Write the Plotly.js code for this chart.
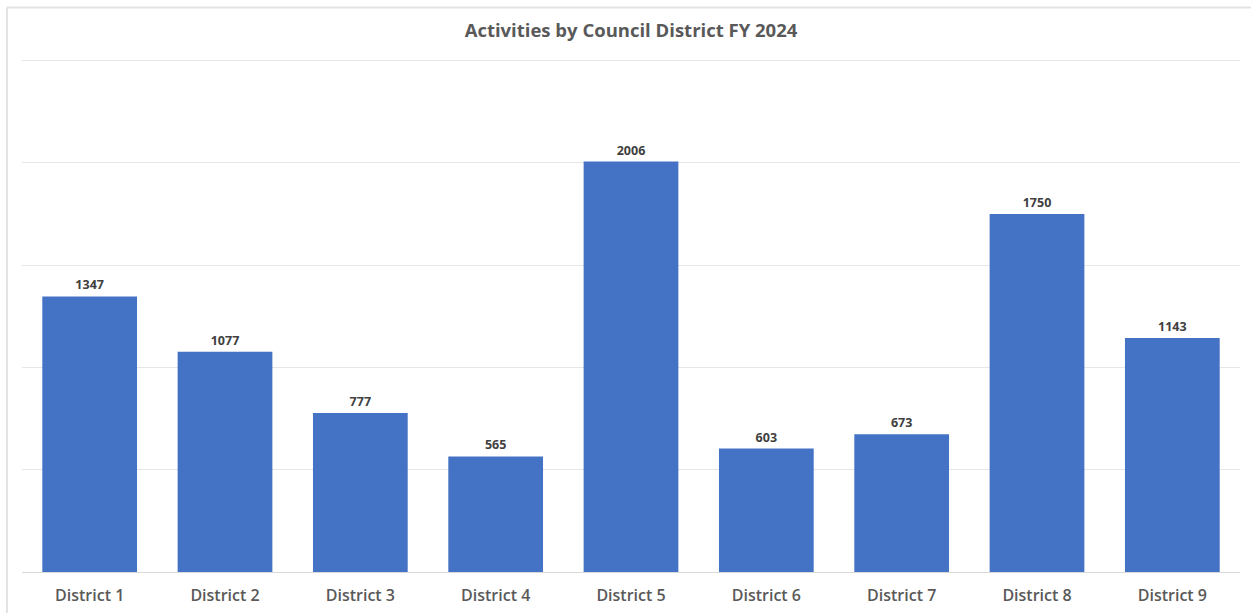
<!DOCTYPE html>
<html>
<head>
<meta charset="utf-8">
<script src="https://cdn.plot.ly/plotly-3.0.1.min.js"></script>
<style>html,body{margin:0;padding:0;background:#fff;}#chart{width:1251px;height:613px;}</style>
</head>
<body>
<div id="chart"></div>
<script>
const districts = ["District 1","District 2","District 3","District 4","District 5","District 6","District 7","District 8","District 9"];
const activities = [1347, 1077, 777, 565, 2006, 603, 673, 1750, 1143];
const titleText = "Activities by Council District FY 2024";

const W = 1251, H = 613;
const yMax = 2600;
const baseY = 572, topGridY = 60;
const ph = (baseY - topGridY) * yMax / 2500;
const m = {l: 22, r: 11, t: baseY - ph, b: H - baseY};
const pw = W - m.l - m.r;
const px = x => (x - m.l) / pw;
const py = y => (baseY - y) / ph;

const trace = {
  type: "bar",
  x: districts,
  y: activities,
  marker: {color: "#4472C4"},
  text: activities.map(String),
  textposition: "outside",
  cliponaxis: false,
  textfont: {family: "Open Sans, sans-serif", size: 12.5, color: "#404040", weight: 700},
  hoverinfo: "x+y"
};

const layout = {
  width: W, height: H,
  margin: m,
  paper_bgcolor: "#fff",
  plot_bgcolor: "#fff",
  showlegend: false,
  bargap: 0.3,
  title: {
    text: titleText,
    x: 0.5, xref: "paper", xanchor: "center",
    y: 1 - 31 / H, yref: "container", yanchor: "middle",
    font: {family: "Open Sans, sans-serif", size: 18.5, color: "#595959", weight: 700}
  },
  xaxis: {
    showgrid: false, zeroline: false, showline: false, ticks: "",
    ticklabelstandoff: 12,
    tickfont: {family: "Open Sans, sans-serif", size: 16, color: "#595959", weight: 600},
    fixedrange: true
  },
  yaxis: {
    range: [0, yMax], dtick: 500, tick0: 0,
    showticklabels: false, ticks: "",
    showgrid: true, gridcolor: "#e6e6e6", gridwidth: 1,
    zeroline: true, zerolinecolor: "#d9d9d9", zerolinewidth: 1,
    showline: false, fixedrange: true
  },
  shapes: [
    {type: "line", xref: "paper", yref: "paper", x0: px(7), x1: px(W), y0: py(7), y1: py(7), line: {color: "#e3e3e3", width: 2}},
    {type: "line", xref: "paper", yref: "paper", x0: px(7), x1: px(7), y0: py(7), y1: py(H), line: {color: "#e3e3e3", width: 2}}
  ]
};

Plotly.newPlot("chart", [trace], layout, {displayModeBar: false, staticPlot: true});
</script>
</body>
</html>
